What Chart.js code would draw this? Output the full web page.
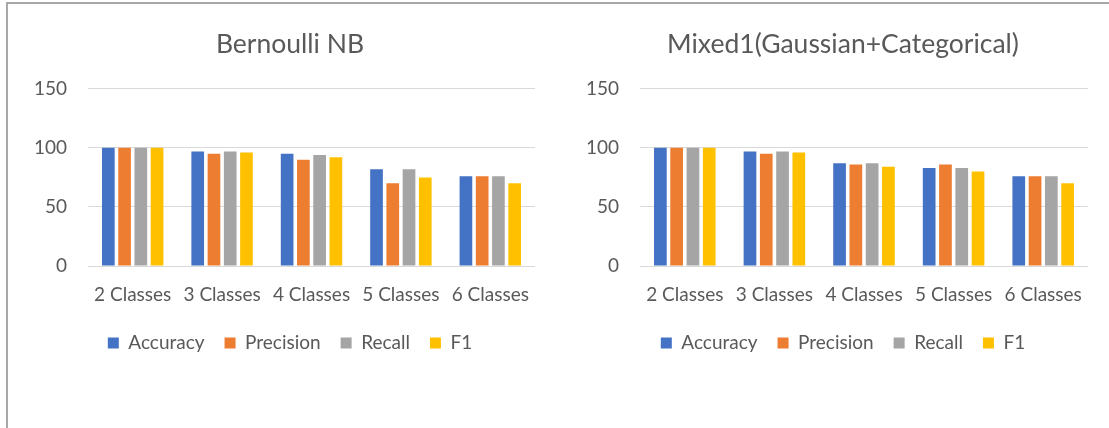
<!DOCTYPE html>
<html>
<head>
<meta charset="utf-8">
<script src="https://cdn.jsdelivr.net/npm/chart.js@4.4.1/dist/chart.umd.min.js"></script>
<style>
  html, body { margin: 0; padding: 0; background: #ffffff; }
  body { width: 1109px; height: 428px; position: relative; overflow: hidden; }
  .frame { position: absolute; left: 6px; top: 2px; width: 1103px; height: 426px;
           border-left: 2px solid #a8a8a8; border-top: 2px solid #a8a8a8; box-sizing: border-box; }
  .panel { position: absolute; top: 4px; height: 424px; }
  #left { left: 8px; width: 564px; }
  #right { left: 578px; width: 530px; }
</style>
</head>
<body>
<div class="frame"></div>
<div class="panel" id="left"><canvas id="bernoulli"></canvas></div>
<div class="panel" id="right"><canvas id="mixed"></canvas></div>
<script>
// Class-count groups along the x axis
const categories = ['2 Classes', '3 Classes', '4 Classes', '5 Classes', '6 Classes'];
const yTicks = [0, 50, 100, 150];
const metricNames = ['Accuracy', 'Precision', 'Recall', 'F1'];
const metricColors = ['#4472C4', '#ED7D31', '#A5A5A5', '#FFC000'];

// Bernoulli NB scores (%)
const bernoulliAccuracy  = [100, 97, 95, 82, 76];
const bernoulliPrecision = [100, 95, 90, 70, 76];
const bernoulliRecall    = [100, 97, 94, 82, 76];
const bernoulliF1        = [100, 96, 92, 75, 70];

// Mixed1 (Gaussian + Categorical) scores (%)
const mixedAccuracy  = [100, 97, 87, 83, 76];
const mixedPrecision = [100, 95, 86, 86, 76];
const mixedRecall    = [100, 97, 87, 83, 76];
const mixedF1        = [100, 96, 84, 80, 70];

const FONT = 'Lato, "Open Sans", sans-serif';
const TEXT = '#595959';

function buildChart(canvasId, title, series, axisWidth, rightGap) {
  const datasets = series.map((values, i) => ({
    label: metricNames[i],
    data: values,
    backgroundColor: metricColors[i],
    borderWidth: 0,
    categoryPercentage: 0.727,
    barPercentage: 0.78
  }));
  return new Chart(document.getElementById(canvasId), {
    type: 'bar',
    data: { labels: categories, datasets },
    options: {
      responsive: true,
      maintainAspectRatio: false,
      animation: false,
      events: [],
      layout: { padding: { left: 0, right: 0, top: 0, bottom: 65.5 } },
      plugins: {
        title: {
          display: true,
          text: title,
          color: TEXT,
          font: { family: FONT, size: 26.5, weight: 'normal' },
          padding: { top: 25, bottom: 28 }
        },
        legend: {
          position: 'bottom',
          labels: {
            color: TEXT,
            font: { family: FONT, size: 19 },
            boxWidth: 11,
            boxHeight: 11,
            padding: 20
          }
        },
        tooltip: { enabled: false }
      },
      scales: {
        x: {
          grid: { display: false, drawTicks: false },
          border: { display: false },
          ticks: { color: TEXT, font: { family: FONT, size: 19 }, padding: 17, maxRotation: 0, autoSkip: false },
          afterFit: s => { s.height = 47.5; }
        },
        y: {
          min: 0,
          max: 150,
          afterBuildTicks: s => { s.ticks = yTicks.map(v => ({ value: v })); },
          grid: { color: '#D9D9D9', lineWidth: 1, drawTicks: false },
          border: { display: false },
          ticks: { color: TEXT, font: { family: FONT, size: 19 }, padding: 21 },
          afterFit: s => { s.width = axisWidth; }
        },
        gap: {
          position: 'right',
          display: true,
          grid: { display: false, drawTicks: false },
          border: { display: false },
          ticks: { display: false },
          afterFit: s => { s.width = rightGap; }
        }
      }
    }
  });
}

buildChart('bernoulli', 'Bernoulli NB',
  [bernoulliAccuracy, bernoulliPrecision, bernoulliRecall, bernoulliF1], 80, 37);
buildChart('mixed', 'Mixed1(Gaussian+Categorical)',
  [mixedAccuracy, mixedPrecision, mixedRecall, mixedF1], 62, 20);
</script>
</body>
</html>
